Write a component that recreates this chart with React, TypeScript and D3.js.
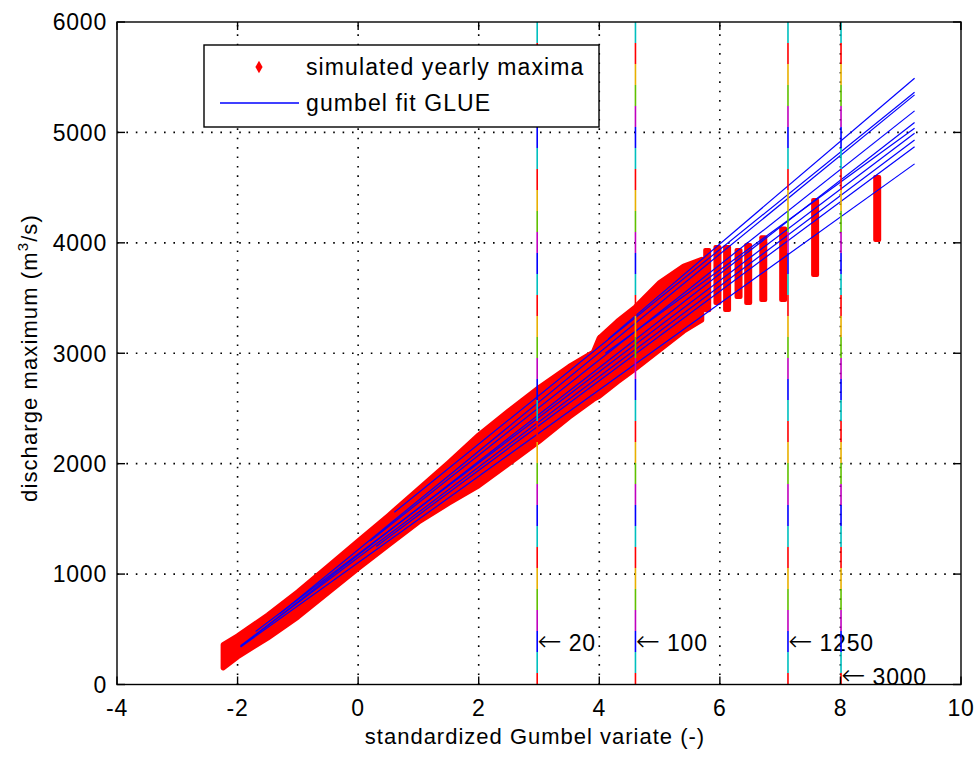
import React from "react";
import * as d3 from "d3";

// ---------- data ----------
const xTicks = [-4, -2, 0, 2, 4, 6, 8, 10];
const yTicks = [0, 1000, 2000, 3000, 4000, 5000, 6000];

// envelope of the dense simulated yearly maxima cloud
const bandX = [-2.24, -2.0, -1.5, -1.0, -0.5, 0, 0.5, 1, 1.5, 2, 2.5, 3, 3.5, 3.9, 4.0, 4.3, 4.6, 5.0, 5.4, 5.7];
const bandUpper = [360, 440, 630, 840, 1070, 1300, 1530, 1770, 2010, 2260, 2480, 2690, 2880, 3010, 3140, 3290, 3420, 3640, 3790, 3850];
const bandLower = [150, 250, 420, 610, 830, 1050, 1260, 1470, 1640, 1800, 2000, 2200, 2420, 2580, 2610, 2740, 2860, 3030, 3200, 3300];

// isolated columns of maxima at the high end
const colX = [5.79, 5.96, 6.12, 6.31, 6.47, 6.72, 7.05, 7.58, 8.61];
const colMin = [3390, 3455, 3392, 3510, 3455, 3483, 3483, 3709, 4026];
const colMax = [3935, 3963, 3963, 3936, 3981, 4050, 4130, 4389, 4597];

// GLUE gumbel fit lines
const fitStartX = [4.15, 0.6, -1.3, 0.2, -1.95, 4.1, -1.7, -1.95, 0.3, -1.95];
const fitStartY = [3130, 1560, 640, 1300, 345, 3000, 480, 350, 1250, 340];
const fitEndX = [9.23, 9.23, 9.23, 9.23, 9.23, 9.23, 9.23, 9.23, 9.23, 9.23];
const fitEndY = [5491, 5364, 5340, 5195, 5089, 5038, 4993, 4932, 4871, 4715];

// return periods
const rpX = [2.97, 4.6, 7.13, 8.01];
const rpLabel = ["20", "100", "1250", "3000"];
const rpLabelY = [375, 375, 375, 68];

const stripeColors = ["#00bfbf", "#ff0000", "#e8b000", "#60c000", "#bf00bf", "#0000ff"];

export default function App() {
  const W = 978, H = 757;
  const x = d3.scaleLinear().domain([-4, 10]).range([117, 961]);
  const y = d3.scaleLinear().domain([0, 6000]).range([684.5, 22]);
  const [x0, x1] = x.range();
  const [yb, yt] = y.range();
  const font = "'Liberation Sans', Arial, Helvetica, sans-serif";

  const area = d3
    .area<number>()
    .x((_, i) => x(bandX[i]))
    .y0((_, i) => y(bandLower[i]))
    .y1((_, i) => y(bandUpper[i]))
    .curve(d3.curveLinear);

  const seg = 21;
  const period = seg * stripeColors.length;

  return (
    <svg width={W} height={H} style={{ position: "absolute", left: 0, top: 0, background: "#fff" }} fontFamily={font}>
      <rect x={0} y={0} width={W} height={H} fill="#fff" />
      {/* grid */}
      {xTicks.slice(1, -1).map((t) => (
        <line key={"gx" + t} x1={x(t)} x2={x(t)} y1={yb} y2={yt} stroke="#000" strokeWidth={1.6} strokeDasharray="1.6 7.8" />
      ))}
      {yTicks.slice(1, -1).map((t) => (
        <line key={"gy" + t} x1={x0} x2={x1} y1={y(t)} y2={y(t)} stroke="#000" strokeWidth={1.6} strokeDasharray="1.6 7.8" />
      ))}

      {/* simulated maxima */}
      <path d={area(bandX) || ""} fill="#ff0000" stroke="#ff0000" strokeWidth={5} strokeLinejoin="round" />
      {colX.map((cx, i) => (
        <rect key={"c" + i} x={x(cx) - 4} y={y(colMax[i]) - 2} width={8} height={y(colMin[i]) - y(colMax[i]) + 4} fill="#ff0000" rx={2} />
      ))}

      {/* fit lines */}
      {fitStartX.map((sx, i) => (
        <line key={"f" + i} x1={x(sx)} y1={y(fitStartY[i])} x2={x(fitEndX[i])} y2={y(fitEndY[i])} stroke="#0000ff" strokeWidth={1.2} />
      ))}

      {/* return period lines */}
      {rpX.map((rx, i) => (
        <g key={"rp" + i}>
          {stripeColors.map((c, k) => (
            <line
              key={k}
              x1={x(rx)}
              x2={x(rx)}
              y1={yt}
              y2={yb}
              stroke={c}
              strokeWidth={1.6}
              strokeDasharray={`${seg} ${period - seg}`}
              strokeDashoffset={-k * seg}
            />
          ))}
          <text x={x(rx)} y={y(rpLabelY[i])} dy="0.36em" fontSize={23} letterSpacing={0.8} fill="#000">
            <tspan fontFamily="'DejaVu Sans', sans-serif" fontWeight={200} fontSize={29} letterSpacing={0}>{"\u2190"}</tspan>
            <tspan>{" " + rpLabel[i]}</tspan>
          </text>
        </g>
      ))}

      {/* axes box */}
      <rect x={x0} y={yt} width={x1 - x0} height={yb - yt} fill="none" stroke="#000" strokeWidth={1.4} />
      {xTicks.map((t) => (
        <g key={"tx" + t}>
          <line x1={x(t)} x2={x(t)} y1={yb} y2={yb - 8} stroke="#000" strokeWidth={1.4} />
          <line x1={x(t)} x2={x(t)} y1={yt} y2={yt + 8} stroke="#000" strokeWidth={1.4} />
          <text x={x(t)} y={716} textAnchor="middle" fontSize={23} letterSpacing={0.8} fill="#000">{t}</text>
        </g>
      ))}
      {yTicks.map((t) => (
        <g key={"ty" + t}>
          <line x1={x0} x2={x0 + 8} y1={y(t)} y2={y(t)} stroke="#000" strokeWidth={1.4} />
          <line x1={x1} x2={x1 - 8} y1={y(t)} y2={y(t)} stroke="#000" strokeWidth={1.4} />
          <text x={107} y={y(t)} dy="0.36em" textAnchor="end" fontSize={23} letterSpacing={0.8} fill="#000">{t}</text>
        </g>
      ))}

      {/* axis labels */}
      <text x={535} y={744} textAnchor="middle" fontSize={22} letterSpacing={1} fill="#000">standardized Gumbel variate (-)</text>
      <text transform="translate(37,358) rotate(-90)" textAnchor="middle" fontSize={22} letterSpacing={1.1} fill="#000">
        discharge maximum (m<tspan dy={-9} fontSize={15}>3</tspan><tspan dy={9}>/s)</tspan>
      </text>

      {/* legend */}
      <rect x={204} y={45} width={395} height={82} fill="#fff" stroke="#000" strokeWidth={1.4} />
      <path d={d3.symbol(d3.symbolDiamond, 45)() || ""} transform="translate(259,67)" fill="#ff0000" />
      <line x1={220} x2={299} y1={103} y2={103} stroke="#0000ff" strokeWidth={1.4} />
      <text x={306} y={67} dy="0.35em" fontSize={23} letterSpacing={1.1} fill="#000">simulated yearly maxima</text>
      <text x={306} y={103} dy="0.35em" fontSize={23} letterSpacing={1.1} fill="#000">gumbel fit GLUE</text>
    </svg>
  );
}
